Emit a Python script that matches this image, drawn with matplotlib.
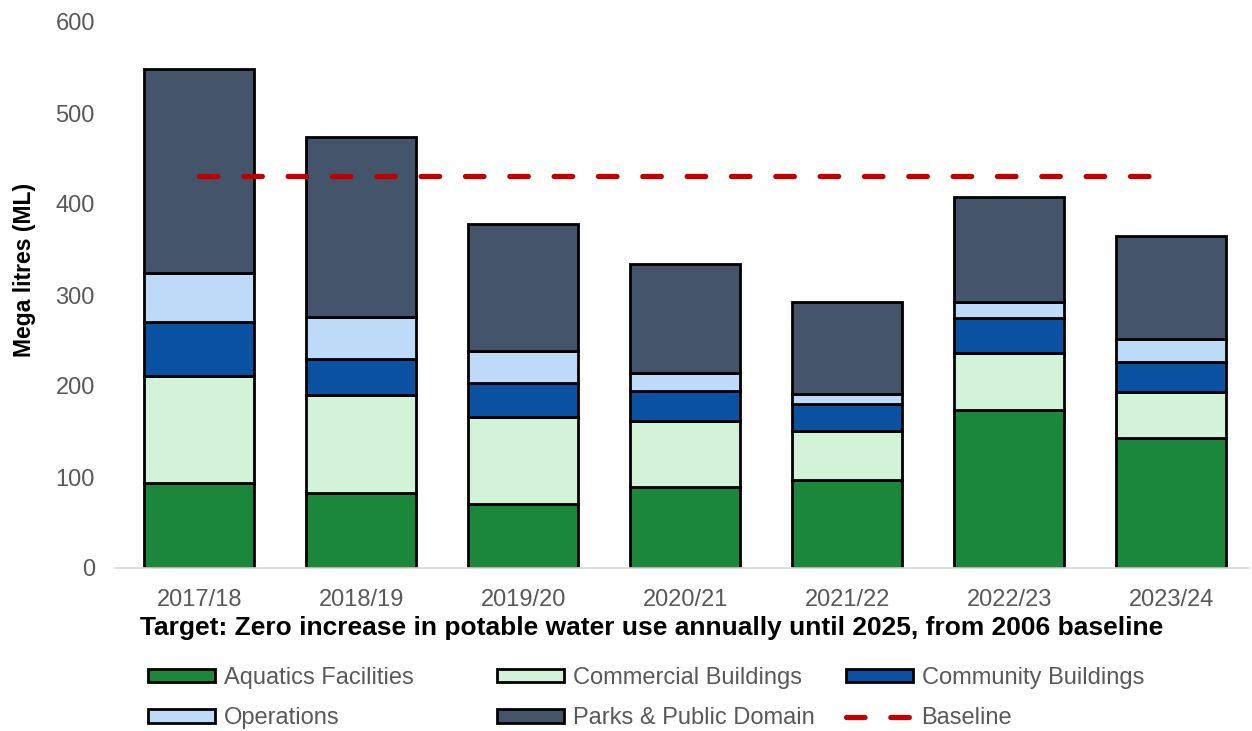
import matplotlib.pyplot as plt
import numpy as np

plt.rcParams['font.family'] = ['Liberation Sans', 'DejaVu Sans']

# Données (ML)
years = ['2017/18', '2018/19', '2019/20', '2020/21', '2021/22', '2022/23', '2023/24']
aquatics = [93, 82, 70, 89, 97, 174, 143]
commercial = [118, 108, 96, 72, 54, 62, 50]
community = [59, 40, 37, 33, 29, 39, 33]
operations = [54, 46, 35, 20, 11, 17, 26]
parks = [224, 198, 140, 120, 101, 116, 113]
baseline = [431] * len(years)

series_names = ['Aquatics Facilities', 'Commercial Buildings', 'Community Buildings',
                'Operations', 'Parks & Public Domain']
colors = ['#1B873A', '#D3F3D9', '#0A51A1', '#BDDAF8', '#44546A']

W, H = 1252, 731
fig = plt.figure(figsize=(W / 100, H / 100), dpi=100)
ax = fig.add_axes([115 / W, 1 - 568 / H, 1134 / W, 546 / H])

x = np.arange(len(years))
bottom = np.zeros(len(years))
handles = []
for name, vals, col in zip(series_names, [aquatics, commercial, community, operations, parks], colors):
    b = ax.bar(x, vals, 0.68, bottom=bottom, color=col, edgecolor='black', linewidth=2, label=name)
    handles.append(b)
    bottom += np.array(vals)

line, = ax.plot(x, baseline, color='#C00000', linestyle=(0, (3.5, 4.9)), linewidth=3.8,
                dash_capstyle='round', label='Baseline')
handles.append(line)

ax.set_ylim(0, 600)
ax.set_xlim(-0.52, 6.48)
ax.set_yticks(range(0, 601, 100))
ax.set_xticks(x)
ax.set_xticklabels(years)
ax.tick_params(axis='both', length=0, labelsize=17, labelcolor='#595959')
ax.tick_params(axis='y', pad=14.5)
ax.tick_params(axis='x', pad=15)
for s in ['top', 'right', 'left']:
    ax.spines[s].set_visible(False)
ax.spines['bottom'].set_color('#D9D9D9')
ax.spines['bottom'].set_linewidth(1.2)

ax.set_ylabel('Mega litres (ML)', fontsize=16.5, fontweight='bold')
ax.yaxis.set_label_coords((36 - 115) / 1134, (568 - 270) / 546)
ax.set_xlabel('Target: Zero increase in potable water use annually until 2025, from 2006 baseline',
              fontsize=19, fontweight='bold')
ax.xaxis.set_label_coords((652 - 115) / 1134, (568 - 616) / 546)

# légende en trois colonnes à largeur fixe
cols = [(148, [0, 3]), (497, [1, 4]), (846, [2, 5])]
for xpix, idx in cols:
    leg = fig.legend([handles[i] for i in idx], [handles[i].get_label() for i in idx],
                     loc='center left', bbox_to_anchor=(xpix / W, 1 - 698 / H),
                     frameon=False, fontsize=17, borderpad=0, borderaxespad=0,
                     handlelength=2.85, handleheight=0.52, handletextpad=0.35,
                     labelspacing=0.78)
    for t in leg.get_texts():
        t.set_color('#595959')

fig.savefig('out.png', dpi=100)
